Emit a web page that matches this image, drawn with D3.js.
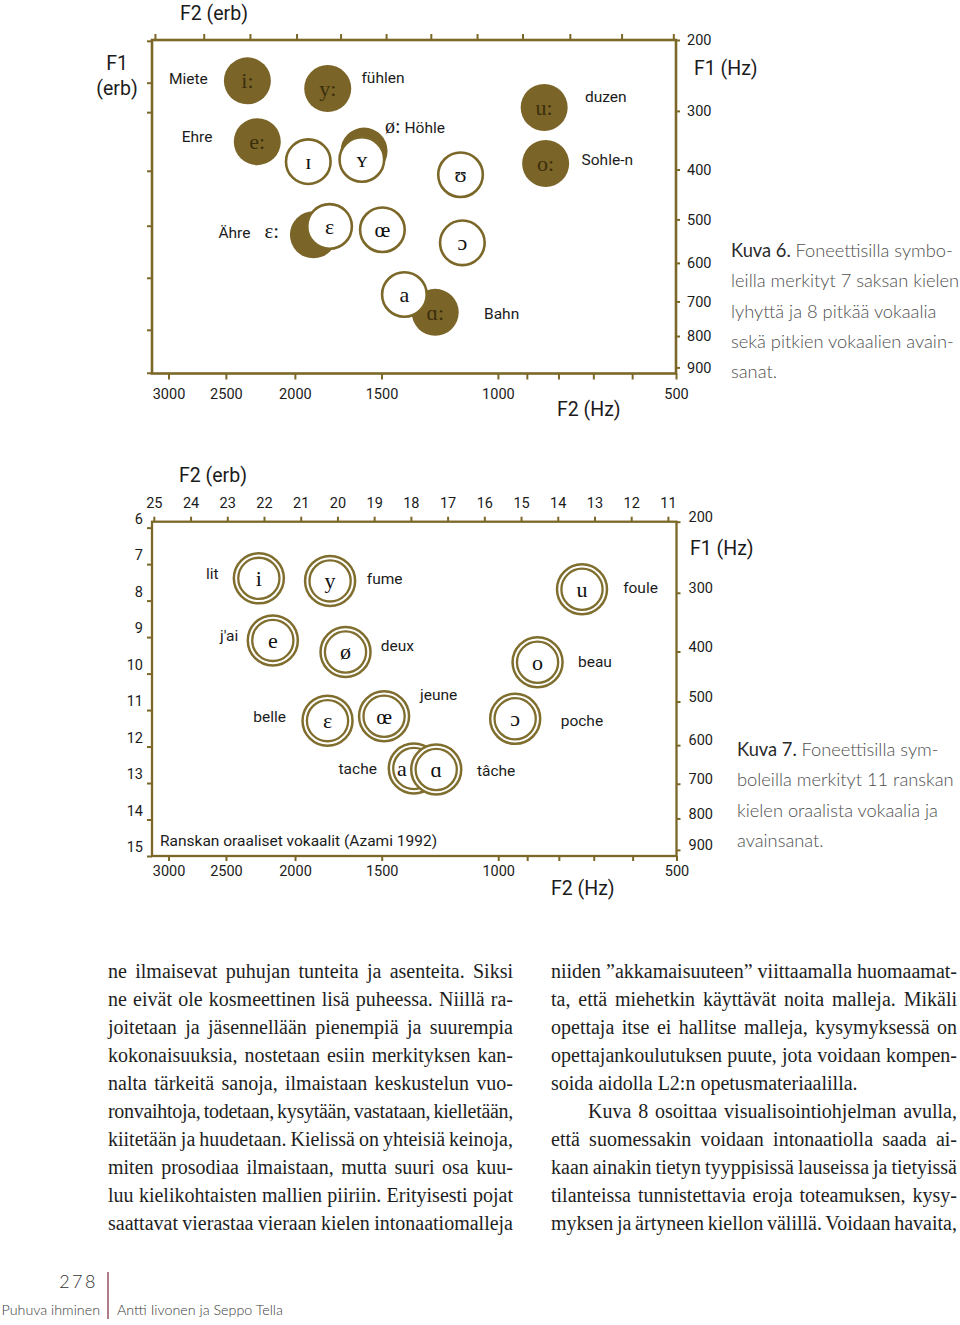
<!DOCTYPE html>
<html><head><meta charset="utf-8">
<script src="https://cdn.jsdelivr.net/npm/d3@7"></script>
<style>
body{margin:0;background:#fff;}
svg{display:block;}
</style></head><body>
<svg id="page" width="960" height="1325"></svg>
<script>
// ================= DATA =================
// Kuva 6 — German vowels, positions in ERB units (F2 horizontal, F1 vertical)
const deLongSymbols = ["i:", "y:", "e:", "ø:", "u:", "o:", "ɛ:", "ɑ:"];
const deLongShowInside = [true, true, true, false, true, true, false, true];
const deLongF2 = [22.45, 20.26, 22.18, 19.27, 14.36, 14.32, 20.65, 17.33];
const deLongF1 = [6.96, 7.17, 8.63, 8.89, 7.69, 9.23, 11.19, 13.32];
const deShortSymbols = ["ɪ", "ʏ", "ʊ", "ɛ", "œ", "ɔ", "a"];
const deShortF2 = [20.79, 19.33, 16.64, 20.21, 18.77, 16.59, 18.17];
const deShortF1 = [9.18, 9.12, 9.54, 10.96, 11.05, 11.41, 12.83];
const deWords = ["Miete", "Ehre", "fühlen", "Höhle", "duzen", "Sohle-n", "Ähre", "Bahn"];
const deWordSym = ["", "", "", "ø:", "", "", "ɛ:", ""];
const deWordSymAfter = [false, false, false, false, false, false, true, false];
const deWordF2 = [24.59, 24.24, 19.34, 18.70, 13.25, 13.34, 23.24, 16.0];
const deWordF1 = [6.89, 8.49, 6.86, 8.24, 7.38, 9.11, 11.12, 13.36];
const deTopTicks = [24.97, 23.64, 22.38, 21.11, 19.91, 18.67, 17.45, 16.19, 14.95, 13.66, 12.25, 10.84];
const deLeftTicks = [5.86, 7.01, 7.82, 9.43, 10.94, 12.37, 13.80, 14.98];

// Kuva 7 — French oral vowels (Azami 1992)
const frSymbols = ["i", "y", "e", "ø", "u", "o", "ɛ", "œ", "ɔ", "a", "ɑ"];
const frF2 = [22.14, 20.20, 21.76, 19.78, 13.34, 14.55, 20.27, 18.73, 15.16, 17.92, 17.31];
const frF1 = [7.39, 7.46, 9.09, 9.41, 7.69, 9.69, 11.29, 11.17, 11.24, 12.60, 12.63];
const frSymDx = [0, 0, 0, 0, 0, 0, 0, 0, 0, -12, 0];
const frWords = ["lit", "fume", "j'ai", "deux", "foule", "beau", "belle", "jeune", "tache", "poche", "tâche"];
const frWordF2 = [23.58, 19.20, 23.20, 18.82, 12.22, 13.45, 22.29, 17.75, 19.97, 13.92, 16.20];
const frWordF1 = [7.26, 7.39, 8.95, 9.22, 7.65, 9.68, 11.17, 10.58, 12.61, 11.30, 12.67];
const frErbF2Ticks = [25, 24, 23, 22, 21, 20, 19, 18, 17, 16, 15, 14, 13, 12, 11];
const frErbF1Ticks = [6, 7, 8, 9, 10, 11, 12, 13, 14, 15];

// Hz axes (both charts)
const f2HzTicks = [3000, 2500, 2000, 1500, 1000, 900, 800, 700, 600, 500];
const f2HzLabeled = [3000, 2500, 2000, 1500, 1000, 500];
const f1HzTicks = [200, 300, 400, 500, 600, 700, 800, 900];

// Captions and body text
const caption6 = ["Foneettisilla symbo-", "leilla merkityt 7 saksan kielen", "lyhyttä ja 8 pitkää vokaalia", "sekä pitkien vokaalien avain-", "sanat."];
const caption7 = ["Foneettisilla sym-", "boleilla merkityt 11 ranskan", "kielen oraalista vokaalia ja", "avainsanat."];
const leftColumn = [
  "ne ilmaisevat puhujan tunteita ja asenteita. Siksi",
  "ne eivät ole kosmeettinen lisä puheessa. Niillä ra-",
  "joitetaan ja jäsennellään pienempiä ja suurempia",
  "kokonaisuuksia, nostetaan esiin merkityksen kan-",
  "nalta tärkeitä sanoja, ilmaistaan keskustelun vuo-",
  "ronvaihtoja, todetaan, kysytään, vastataan, kielletään,",
  "kiitetään ja huudetaan. Kielissä on yhteisiä keinoja,",
  "miten prosodiaa ilmaistaan, mutta suuri osa kuu-",
  "luu kielikohtaisten mallien piiriin. Erityisesti pojat",
  "saattavat vierastaa vieraan kielen intonaatiomalleja"
];
const rightColumn = [
  "niiden ”akkamaisuuteen” viittaamalla huomaamat-",
  "ta, että miehetkin käyttävät noita malleja. Mikäli",
  "opettaja itse ei hallitse malleja, kysymyksessä on",
  "opettajankoulutuksen puute, jota voidaan kompen-",
  "soida aidolla L2:n opetusmateriaalilla.",
  "Kuva 8 osoittaa visualisointiohjelman avulla,",
  "että suomessakin voidaan intonaatiolla saada ai-",
  "kaan ainakin tietyn tyyppisissä lauseissa ja tietyissä",
  "tilanteissa tunnistettavia eroja toteamuksen, kysy-",
  "myksen ja ärtyneen kiellon välillä. Voidaan havaita,"
];
const rightIndent = [5];
const rightRagged = [4];

// ================= DRAWING =================
const OLIVE = "#7b6829", FILLC = "#7a6427", RING = "#7f6e2e";
const SANS = "Roboto, 'Open Sans', sans-serif";
const SERIF = "'Liberation Serif', 'DejaVu Serif', serif";
const CAPF = "Lato, 'Open Sans', sans-serif";
const erb = f => 21.4 * Math.log10(1 + 0.00437 * f);

const svg = d3.select("#page");
svg.append("rect").attr("width", 960).attr("height", 1325).attr("fill", "#fff");

const F2_MAX = 25.05, F2_MIN = erb(500), F1_MIN = erb(200), F1_MAX = 15;

function styleAxis(g, size) {
  g.select(".domain").remove();
  g.selectAll(".tick line").attr("stroke", OLIVE).attr("stroke-width", 2);
  g.selectAll(".tick text").attr("fill", "#1b1b1b").attr("font-family", SANS)
    .attr("font-size", size);
}

function hzScales(x, y) {
  const hx = d3.scaleLinear().domain(f2HzTicks).range(f2HzTicks.map(h => x(erb(h))));
  const hy = d3.scaleLinear().domain(f1HzTicks).range(f1HzTicks.map(h => y(erb(h))));
  return [hx, hy];
}

function frame(x, y, sw) {
  svg.append("rect")
    .attr("x", x.range()[0]).attr("y", y.range()[0])
    .attr("width", x.range()[1] - x.range()[0])
    .attr("height", y.range()[1] - y.range()[0])
    .attr("fill", "none").attr("stroke", OLIVE).attr("stroke-width", sw);
}

function axisTitle(txt, xx, yy, anchor) {
  svg.append("text").attr("x", xx).attr("y", yy).attr("text-anchor", anchor || "start")
    .attr("font-family", SANS).attr("font-size", 19.5).attr("fill", "#1b1b1b").text(txt);
}

// ---------- Chart 1 (German) ----------
{
  const x = d3.scaleLinear().domain([F2_MAX, F2_MIN]).range([152, 676]);
  const y = d3.scaleLinear().domain([F1_MIN, F1_MAX]).range([40, 373.5]);
  const [hx, hy] = hzScales(x, y);

  svg.append("g").attr("transform", `translate(0,${y.range()[0]})`)
    .call(d3.axisTop(x).tickValues(deTopTicks).tickSize(6).tickFormat(""))
    .call(g => styleAxis(g, 14.5));
  svg.append("g").attr("transform", `translate(${x.range()[0]},0)`)
    .call(d3.axisLeft(y).tickValues(deLeftTicks).tickSize(5).tickFormat(""))
    .call(g => styleAxis(g, 14.5));
  svg.append("g").attr("transform", `translate(${x.range()[1]},0)`)
    .call(d3.axisRight(hy).tickValues(f1HzTicks).tickSize(4).tickPadding(7).tickFormat(d3.format("d")))
    .call(g => styleAxis(g, 14.5));
  svg.append("g").attr("transform", `translate(0,${y.range()[1]})`)
    .call(d3.axisBottom(hx).tickValues(f2HzTicks).tickSize(6).tickPadding(9)
      .tickFormat(d => f2HzLabeled.includes(d) ? d : ""))
    .call(g => styleAxis(g, 14.5));
  frame(x, y, 2.6);

  axisTitle("F2 (erb)", 180, 20);
  axisTitle("F1", 117, 70, "middle");
  axisTitle("(erb)", 117, 95, "middle");
  axisTitle("F1 (Hz)", 694, 75);
  axisTitle("F2 (Hz)", 557, 416);

  // long vowels (filled)
  const longG = svg.append("g");
  longG.selectAll("circle").data(deLongSymbols).join("circle")
    .attr("cx", (d, i) => x(deLongF2[i])).attr("cy", (d, i) => y(deLongF1[i]))
    .attr("r", 23.5).attr("fill", FILLC);
  longG.selectAll("text").data(deLongSymbols.filter((d, i) => deLongShowInside[i]))
    .join("text")
    .each(function (d) {
      const i = deLongSymbols.indexOf(d);
      d3.select(this).attr("x", x(deLongF2[i])).attr("y", y(deLongF1[i]));
    })
    .attr("dy", "0.33em").attr("text-anchor", "middle")
    .attr("font-family", SERIF).attr("font-size", 22).attr("fill", "#3a2f0d").text(d => d);

  // short vowels (white)
  const shortG = svg.append("g");
  shortG.selectAll("circle").data(deShortSymbols).join("circle")
    .attr("cx", (d, i) => x(deShortF2[i])).attr("cy", (d, i) => y(deShortF1[i]))
    .attr("r", 22.3).attr("fill", "#fff").attr("stroke", OLIVE).attr("stroke-width", 2.6);
  shortG.selectAll("text").data(deShortSymbols).join("text")
    .attr("x", (d, i) => x(deShortF2[i])).attr("y", (d, i) => y(deShortF1[i]))
    .attr("dy", "0.33em").attr("text-anchor", "middle")
    .attr("font-family", SERIF).attr("font-size", 22).attr("fill", "#111").text(d => d);

  // keywords
  deWords.forEach((w, i) => {
    const t = svg.append("text").attr("x", x(deWordF2[i])).attr("y", y(deWordF1[i]))
      .attr("dy", "0.35em").attr("font-family", SANS).attr("font-size", 15.5).attr("fill", "#1b1b1b");
    if (deWordSym[i] && !deWordSymAfter[i]) {
      t.append("tspan").attr("font-family", SERIF).attr("font-size", 20).text(deWordSym[i]);
      t.append("tspan").attr("dx", 4).text(w);
    } else if (deWordSym[i]) {
      t.append("tspan").text(w);
      t.append("tspan").attr("dx", 14).attr("font-family", SERIF).attr("font-size", 21).text(deWordSym[i]);
    } else {
      t.text(w);
    }
  });
}

// ---------- Chart 2 (French) ----------
{
  const x = d3.scaleLinear().domain([F2_MAX, F2_MIN]).range([152, 676.5]);
  const y = d3.scaleLinear().domain([F1_MIN, F1_MAX]).range([521.7, 856]);
  const [hx, hy] = hzScales(x, y);

  svg.append("g").attr("transform", `translate(0,${y.range()[0]})`)
    .call(d3.axisTop(x).tickValues(frErbF2Ticks).tickSize(5).tickPadding(9))
    .call(g => styleAxis(g, 14.5));
  svg.append("g").attr("transform", `translate(${x.range()[0]},0)`)
    .call(d3.axisLeft(y).tickValues(frErbF1Ticks).tickSize(5).tickPadding(4))
    .call(g => { styleAxis(g, 14.5); g.selectAll(".tick text").attr("y", -9); });
  svg.append("g").attr("transform", `translate(${x.range()[1]},0)`)
    .call(d3.axisRight(hy).tickValues(f1HzTicks).tickSize(4).tickPadding(8).tickFormat(d3.format("d")))
    .call(g => { styleAxis(g, 14.5); g.selectAll(".tick text").attr("y", -5); });
  svg.append("g").attr("transform", `translate(0,${y.range()[1]})`)
    .call(d3.axisBottom(hx).tickValues(f2HzTicks).tickSize(5).tickPadding(5)
      .tickFormat(d => f2HzLabeled.includes(d) ? d : ""))
    .call(g => styleAxis(g, 14.5));
  frame(x, y, 2.3);

  axisTitle("F2 (erb)", 179, 482);
  axisTitle("F1 (Hz)", 690, 555);
  axisTitle("F2 (Hz)", 551, 895);
  svg.append("text").attr("x", x.range()[0] + 8).attr("y", y.range()[1] - 10)
    .attr("font-family", SANS).attr("font-size", 15.5).attr("fill", "#1b1b1b")
    .text("Ranskan oraaliset vokaalit (Azami 1992)");

  const vg = svg.append("g").selectAll("g").data(frSymbols).join("g")
    .attr("transform", (d, i) => `translate(${x(frF2[i])},${y(frF1[i])})`);
  vg.append("circle").attr("r", 25).attr("fill", "#fff").attr("stroke", RING).attr("stroke-width", 2.5);
  vg.append("circle").attr("r", 20.6).attr("fill", "none").attr("stroke", RING).attr("stroke-width", 2.3);
  vg.append("text").attr("x", (d, i) => frSymDx[i]).attr("dy", "0.33em").attr("text-anchor", "middle")
    .attr("font-family", SERIF).attr("font-size", 22).attr("fill", "#111").text(d => d);

  svg.append("g").selectAll("text").data(frWords).join("text")
    .attr("x", (d, i) => x(frWordF2[i])).attr("y", (d, i) => y(frWordF1[i]))
    .attr("dy", "0.35em").attr("font-family", SANS).attr("font-size", 15.5).attr("fill", "#1b1b1b")
    .text(d => d);
}

// ---------- Captions ----------
function caption(num, lines, x0, y0) {
  lines.forEach((l, i) => {
    const t = svg.append("text").attr("x", x0).attr("y", y0 + i * 30.3)
      .attr("font-family", CAPF).attr("font-weight", 300).attr("font-size", 18.3).attr("fill", "#4e4e4e");
    if (i === 0) {
      t.append("tspan").attr("fill", "#2a2a2a").attr("font-weight", 400).text("Kuva " + num + ". ");
      t.append("tspan").text(l);
    } else t.text(l);
  });
}
caption(6, caption6, 731, 257);
caption(7, caption7, 737, 756);

// ---------- Body text ----------
function column(lines, x0, width, y0, indent, ragged) {
  lines.forEach((l, i) => {
    const ind = indent.includes(i) ? 37 : 0;
    const t = svg.append("text").attr("x", x0 + ind).attr("y", y0 + i * 28)
      .attr("font-family", SERIF).attr("font-size", 20).attr("fill", "#1e1e1e").text(l);
    if (!ragged.includes(i)) {
      const w = t.node().getComputedTextLength();
      const n = (l.match(/ /g) || []).length;
      if (n > 0) {
        let ws = (width - ind - w) / n;
        if (ws < -1.5) {
          // too wide: keep a minimum gap and tighten the letters a little
          const rest = (width - ind - w) - (-1.5 * n);
          t.style("word-spacing", "-1.5px").style("letter-spacing", (rest / l.length) + "px");
        } else {
          t.style("word-spacing", ws + "px");
        }
      }
    }
  });
}
column(leftColumn, 108, 405, 978, [], []);
column(rightColumn, 551, 406, 978, rightIndent, rightRagged);

// ---------- Footer ----------
svg.append("text").attr("x", 98).attr("y", 1288).attr("text-anchor", "end")
  .attr("font-family", CAPF).attr("font-weight", 300).attr("font-size", 18).attr("letter-spacing", 2.5)
  .attr("fill", "#333").text("278");
svg.append("line").attr("x1", 108).attr("x2", 108).attr("y1", 1272).attr("y2", 1319)
  .attr("stroke", "#9c5c6c").attr("stroke-width", 1.6);
svg.append("text").attr("x", 100).attr("y", 1315).attr("text-anchor", "end")
  .attr("font-family", CAPF).attr("font-weight", 300).attr("font-size", 14.3).attr("fill", "#3a3a3a")
  .text("Puhuva ihminen");
svg.append("text").attr("x", 117).attr("y", 1315)
  .attr("font-family", CAPF).attr("font-weight", 300).attr("font-size", 14.3).attr("fill", "#3a3a3a")
  .text("Antti Iivonen ja Seppo Tella");
</script>
</body></html>
